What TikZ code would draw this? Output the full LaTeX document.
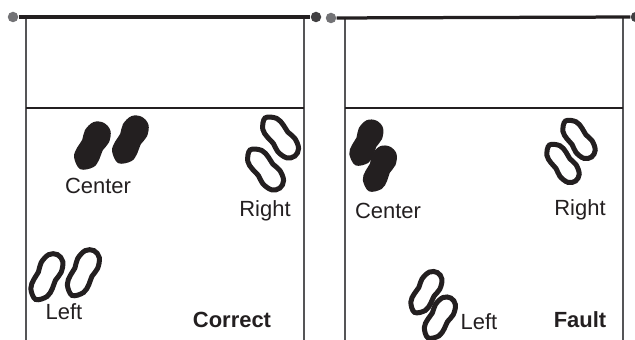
\documentclass[tikz,border=0pt]{standalone}
\usepackage{fontspec}
\setmainfont{Liberation Sans}
\usetikzlibrary{positioning}
\definecolor{inkblack}{RGB}{35,31,32}
\definecolor{postgrey}{RGB}{115,115,118}
\definecolor{postdark}{RGB}{65,64,66}
\definecolor{netgrey}{RGB}{85,85,87}
\newcommand{\footpath}{plot[smooth cycle,tension=.6] coordinates {(26,0) (22,9.5) (11,13.5) (1,11.5) (-8,12.5) (-18,11) (-26,0) (-18,-11) (-8,-12.5) (1,-11.5) (11,-13.5) (22,-9.5)}}
\tikzset{
  post/.style={circle,inner sep=0pt,minimum size=.21cm,fill=postgrey},
  postd/.style={post,fill=postdark},
  netbar/.style={inkblack,line width=.085cm},
  netbarb/.style={inkblack,line width=.065cm},
  side/.style={netgrey,line width=.03cm},
  midline/.style={inkblack,line width=.04cm},
  lbl/.style={font=\fontsize{12.5}{14}\selectfont,text=inkblack,inner sep=0pt},
  lblb/.style={lbl,font=\fontsize{12.5}{14}\selectfont\bfseries},
  solidfoot/.pic={\fill[inkblack] \footpath;},
  openfoot/.pic={\draw[inkblack,line width=.1cm,xscale=.93,yscale=.8] \footpath;}
}
\begin{document}
\begin{tikzpicture}[x=.02cm,y=-.02cm]
\useasboundingbox (0,0) rectangle (635,340);
\begin{scope}
\clip (0,0) rectangle (635,340);
% sides and midlines
\foreach \x/\y in {26/304,345/623}{
  \draw[side] (\x,18)--(\x,340);
  \draw[side] (\y,18)--(\y,340);
  \draw[midline] (\x,108)--(\y,108);
}
% net posts
\node[post] (postA) at (13,17) {};
\node[postd] (postB) at (316,17) {};
\node[post] (postC) at (331,18) {};
\node[postd] (postD) at (636,17) {};
\draw[netbar] (postA)--(postB);
\draw[netbarb] (postC)--(postD);
\end{scope}
% feet, filled
\foreach \x/\y/\r/\s in {92/146/63/1,130/140/63/1,366/143/65/.95,379.5/169/65/.95}{
  \pic[rotate=\r,scale=\s] at (\x,\y) {solidfoot};
}
% feet, open
\foreach \x/\y/\r/\s in {280/137/-52/1,265/169/-52/1,578.5/139/-54/.92,562.5/163/-54/.92,46.5/277/64/1.03,83/273/64/1.03,426/292.5/60/.95,439.5/318/60/.95}{
  \pic[rotate=\r,scale=\s] at (\x,\y) {openfoot};
}
\node[lbl] (centerA) at (98,186) {Center};
\node[lbl] (rightA) at (265,211) {Right};
\node[lbl] (leftA) at (64,312) {Left};
\node[lblb] (correct) at (232,320) {Correct};
\node[lbl] (centerB) at (388,210.5) {Center};
\node[lbl] (rightB) at (580,210) {Right};
\node[lbl] (leftB) at (479,321.5) {Left};
\node[lblb] (fault) at (580,320) {Fault};
\end{tikzpicture}
\end{document}
